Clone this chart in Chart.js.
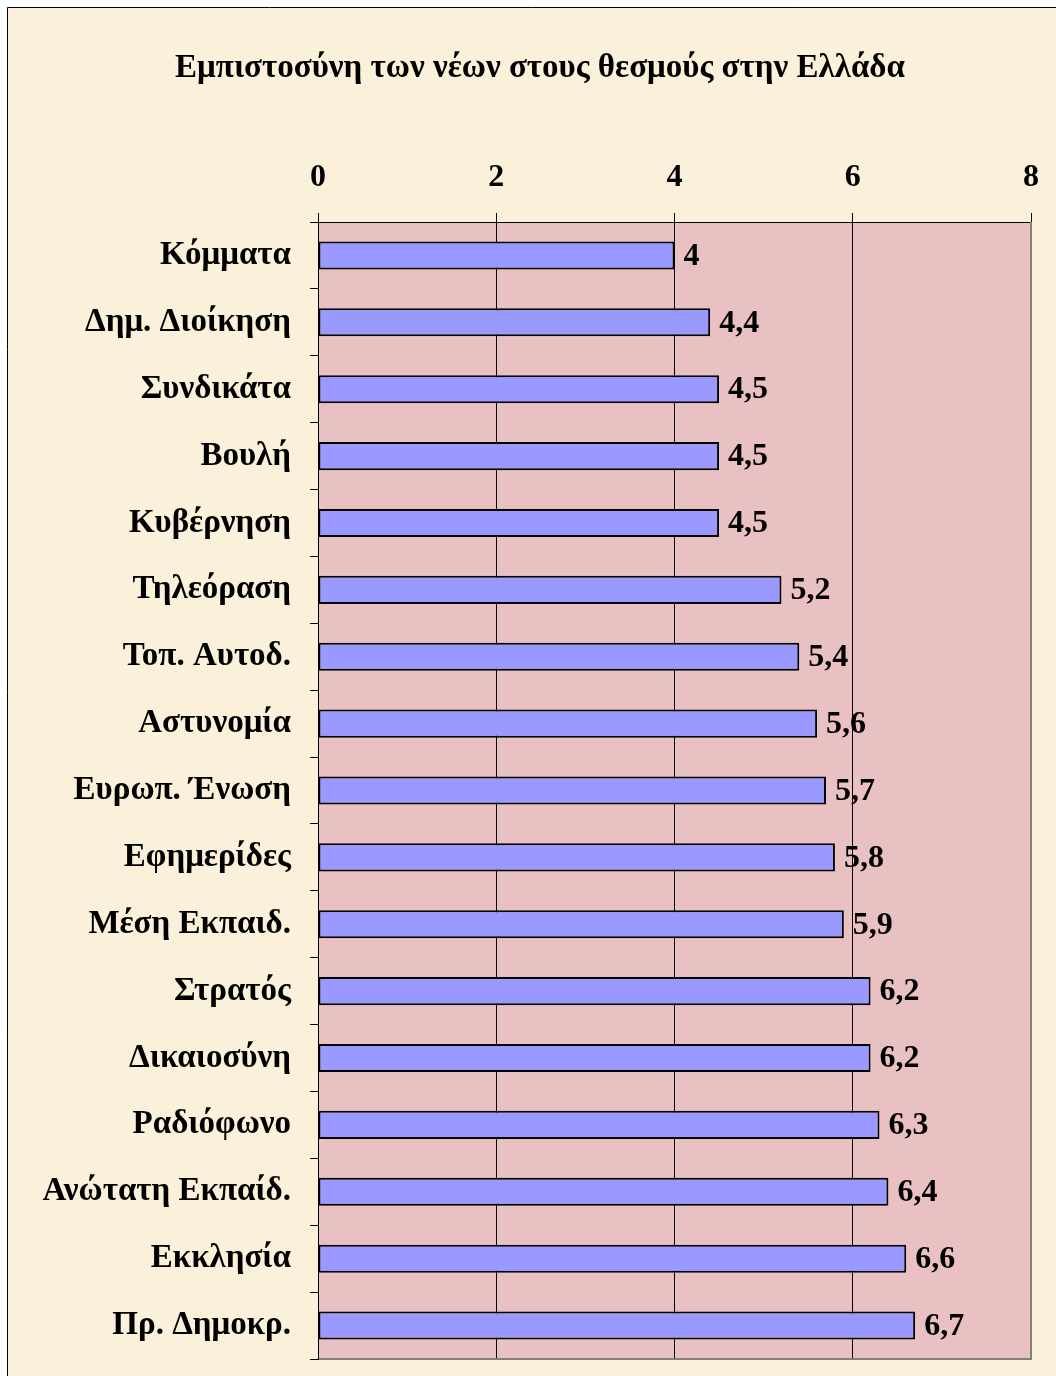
<!DOCTYPE html>
<html>
<head>
<meta charset="utf-8">
<script src="https://cdn.jsdelivr.net/npm/chart.js@4"></script>
<style>
    html, body { margin: 0; padding: 0; background: #ffffff; }
    #chart { display: block; }
</style>
</head>
<body>
<canvas id="chart" width="1056" height="1376"></canvas>
<script>
const institutions = ['Κόμματα', 'Δημ. Διοίκηση', 'Συνδικάτα', 'Βουλή', 'Κυβέρνηση', 'Τηλεόραση',
    'Τοπ. Αυτοδ.', 'Αστυνομία', 'Ευρωπ. Ένωση', 'Εφημερίδες', 'Μέση Εκπαιδ.', 'Στρατός',
    'Δικαιοσύνη', 'Ραδιόφωνο', 'Ανώτατη Εκπαίδ.', 'Εκκλησία', 'Πρ. Δημοκρ.'];
const trustValues = [4, 4.4, 4.5, 4.5, 4.5, 5.2, 5.4, 5.6, 5.7, 5.8, 5.9, 6.2, 6.2, 6.3, 6.4, 6.6, 6.7];
const axisMin = 0;
const axisMax = 8;
const axisStep = 2;
const chartTitle = 'Εμπιστοσύνη των νέων στους θεσμούς στην Ελλάδα';

const serif = 'Liberation Serif, Times New Roman, serif';

// frame, beige page, title and pink plot area
const backgroundPlugin = {
    id: 'background',
    beforeDraw(chart) {
        const ctx = chart.ctx;
        const area = chart.chartArea;
        ctx.save();
        ctx.fillStyle = '#ffffff';
        ctx.fillRect(0, 0, chart.width, chart.height);
        ctx.fillStyle = '#fbf0d9';
        ctx.fillRect(8, 8, chart.width - 8, chart.height - 8);
        ctx.strokeStyle = '#000000';
        ctx.lineWidth = 1;
        ctx.beginPath();
        ctx.moveTo(7.5, chart.height);
        ctx.lineTo(7.5, 7.5);
        ctx.lineTo(chart.width, 7.5);
        ctx.stroke();

        ctx.fillStyle = '#000000';
        ctx.font = 'bold 33px ' + serif;
        ctx.textAlign = 'center';
        ctx.textBaseline = 'alphabetic';
        ctx.fillText(chartTitle, 540, 77);

        ctx.fillStyle = '#e9c1c3';
        ctx.fillRect(area.left, area.top, area.right - area.left, area.bottom - area.top);
        ctx.restore();
    }
};

// grey shadow border + value labels
const valueLabelPlugin = {
    id: 'valueLabels',
    afterDatasetsDraw(chart) {
        const ctx = chart.ctx;
        const area = chart.chartArea;
        ctx.save();
        ctx.strokeStyle = '#808080';
        ctx.lineWidth = 2;
        ctx.beginPath();
        ctx.moveTo(area.right, area.top);
        ctx.lineTo(area.right, area.bottom);
        ctx.lineTo(area.left + 1, area.bottom);
        ctx.stroke();

        ctx.fillStyle = '#000000';
        ctx.font = 'bold 32px ' + serif;
        ctx.textAlign = 'left';
        ctx.textBaseline = 'middle';
        chart.getDatasetMeta(0).data.forEach(function(bar, i) {
            const text = String(trustValues[i]).replace('.', ',');
            ctx.fillText(text, bar.x + 9, bar.y + 1);
        });
        ctx.restore();
    }
};

new Chart(document.getElementById('chart'), {
    type: 'bar',
    data: {
        labels: institutions,
        datasets: [{
            data: trustValues,
            backgroundColor: '#9999ff',
            borderColor: '#000000',
            borderWidth: 2,
            borderSkipped: false,
            categoryPercentage: 1,
            barPercentage: 0.42
        }]
    },
    options: {
        indexAxis: 'y',
        responsive: false,
        animation: false,
        devicePixelRatio: 1,
        layout: {
            padding: { left: 0, right: 25, top: 87.6, bottom: 17 }
        },
        plugins: {
            legend: { display: false },
            tooltip: { enabled: false },
            title: { display: false }
        },
        scales: {
            x: {
                position: 'top',
                min: axisMin,
                max: axisMax,
                afterFit: function(scale) { scale.height = 134.4; },
                ticks: {
                    stepSize: axisStep,
                    color: '#000000',
                    padding: 16,
                    font: { family: serif, size: 32, weight: 'bold' }
                },
                grid: {
                    color: '#000000',
                    lineWidth: 1,
                    tickLength: 9
                },
                border: { color: '#000000', width: 1 }
            },
            y: {
                afterFit: function(scale) {
                    scale.width = 318;
                    scale.paddingTop = 0;
                    scale.paddingBottom = 0;
                },
                ticks: {
                    color: '#000000',
                    padding: 19,
                    font: { family: serif, size: 33, weight: 'bold' }
                },
                grid: {
                    offset: true,
                    drawOnChartArea: false,
                    color: '#000000',
                    tickLength: 8
                },
                border: { color: '#000000', width: 1 }
            }
        }
    },
    plugins: [backgroundPlugin, valueLabelPlugin]
});
</script>
</body>
</html>
